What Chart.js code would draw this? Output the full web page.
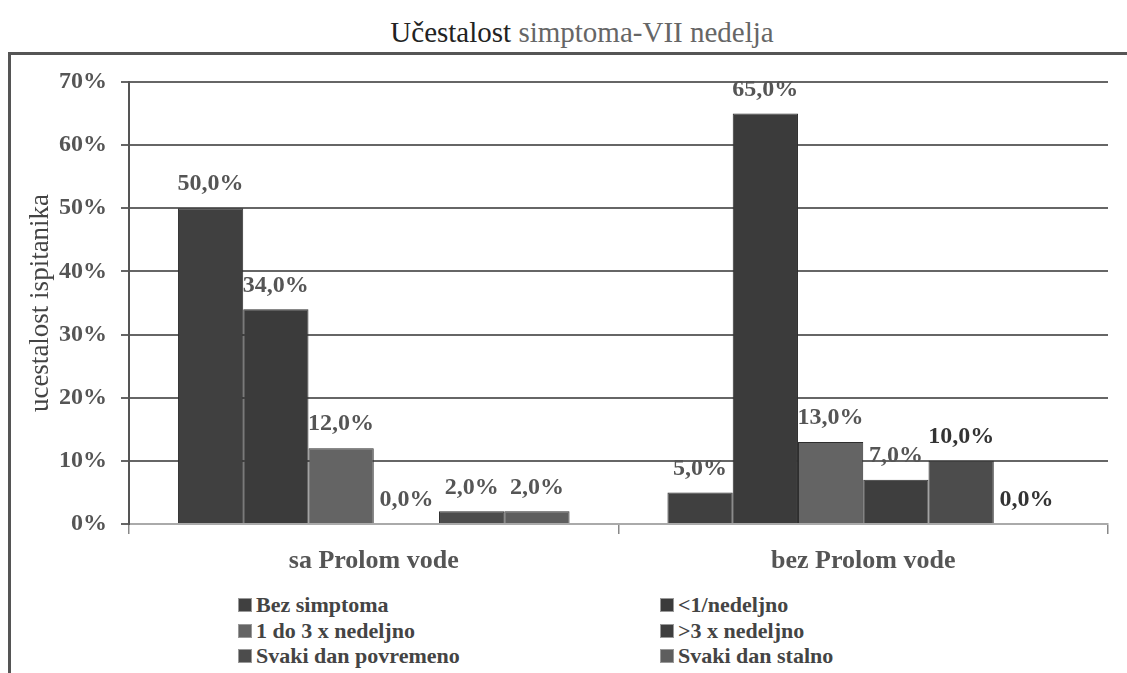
<!DOCTYPE html>
<html>
<head>
<meta charset="utf-8">
<script src="https://cdn.jsdelivr.net/npm/chart.js@4/dist/chart.umd.min.js"></script>
<style>
  html, body { margin: 0; padding: 0; background: #fff; }
  body { width: 1127px; height: 673px; position: relative; overflow: hidden; font-family: "Liberation Serif", "Times New Roman", serif; }
  #title { position: absolute; left: 0; top: 16px; width: 1164px; text-align: center; font-size: 29px; line-height: 32px; color: #666; }
  #title b { font-weight: normal; color: #222; }
  #frame { position: absolute; left: 8px; top: 52px; width: 1130px; height: 640px; border-left: 3px solid #555; border-top: 3px solid #555; }
  #wrap { position: absolute; left: 0; top: 0; width: 1127px; height: 590px; }
  #legend { position: absolute; left: 238px; top: 592px; display: grid; grid-template-columns: 422px 300px; row-gap: 0; font-weight: bold; font-size: 22px; line-height: 25.5px; color: #444; }
  #legend span.box { display: inline-block; width: 12px; height: 12px; margin-right: 4px; border: 1px solid #999; vertical-align: 0px; }
</style>
</head>
<body>
<div id="title"><b>Učestalost</b> simptoma-VII nedelja</div>
<div id="frame"></div>
<div id="wrap"><canvas id="chart"></canvas></div>
<div id="legend"></div>
<script>
// categories and series (values in %)
const categories = ['sa Prolom vode', 'bez Prolom vode'];
const seriesNames = ['Bez simptoma', '<1/nedeljno', '1 do 3 x nedeljno', '>3 x nedeljno', 'Svaki dan povremeno', 'Svaki dan stalno'];
const bezSimptoma = [50, 5];
const manjeOdJednom = [34, 65];
const jedanDoTri = [12, 13];
const viseOdTri = [0, 7];
const svakiDanPovremeno = [2, 10];
const svakiDanStalno = [2, 0];
const seriesColors = ['#404040', '#3b3b3b', '#646464', '#3e3e3e', '#4c4c4c', '#5e5e5e'];

const seriesValues = [bezSimptoma, manjeOdJednom, jedanDoTri, viseOdTri, svakiDanPovremeno, svakiDanStalno];

const datasets = seriesNames.map((name, i) => ({
  label: name,
  data: seriesValues[i],
  backgroundColor: seriesColors[i],
  borderColor: '#2e2e2e',
  borderWidth: 1,
  categoryPercentage: 0.8,
  barPercentage: 1.0
}));

// value labels above bars, e.g. "50,0%"
const valueLabels = {
  id: 'valueLabels',
  afterDatasetsDraw(chart) {
    const ctx = chart.ctx;
    ctx.save();
    ctx.font = 'bold 24px "Liberation Serif", serif';
    ctx.textAlign = 'center';
    ctx.textBaseline = 'middle';
    chart.data.datasets.forEach((ds, i) => {
      const meta = chart.getDatasetMeta(i);
      meta.data.forEach((bar, j) => {
        const v = ds.data[j];
        ctx.fillStyle = (j === 1 && i >= 4) ? '#333' : '#555';
        ctx.fillText(v.toFixed(1).replace('.', ',') + '%', bar.x, bar.y - 24);
      });
    });
    ctx.restore();
  }
};

const ctx = document.getElementById('chart').getContext('2d');
new Chart(ctx, {
  type: 'bar',
  data: { labels: categories, datasets },
  options: {
    responsive: true,
    maintainAspectRatio: false,
    animation: false,
    layout: { padding: { top: 82, right: 19, left: 0, bottom: 0 } },
    plugins: {
      legend: { display: false },
      tooltip: { enabled: false }
    },
    scales: {
      x: {
        afterFit(scale) { scale.height = 66; },
        grid: { drawOnChartArea: false, color: '#888', tickLength: 10, lineWidth: 1.5 },
        border: { color: '#aaa', width: 2 },
        ticks: { color: '#555', padding: 12, font: { family: '"Liberation Serif", serif', size: 26, weight: 'bold' } }
      },
      y: {
        min: 0,
        max: 70,
        afterFit(scale) { scale.width = 129; },
        ticks: {
          stepSize: 10,
          color: '#555',
          padding: 14,
          font: { family: '"Liberation Serif", serif', size: 24, weight: 'bold' },
          callback: v => v + '%'
        },
        grid: { color: '#666', lineWidth: 2, tickLength: 8 },
        border: { color: '#555', width: 2 },
        title: {
          display: true,
          text: 'ucestalost ispitanika',
          color: '#444',
          padding: { top: 25, bottom: 0 },
          font: { family: '"Liberation Serif", serif', size: 27 }
        }
      }
    }
  },
  plugins: [valueLabels]
});

// two-column legend like the original
const legend = document.getElementById('legend');
seriesNames.forEach((name, i) => {
  const item = document.createElement('div');
  const box = document.createElement('span');
  box.className = 'box';
  box.style.background = seriesColors[i];
  item.appendChild(box);
  item.appendChild(document.createTextNode(name));
  legend.appendChild(item);
});
</script>
</body>
</html>
